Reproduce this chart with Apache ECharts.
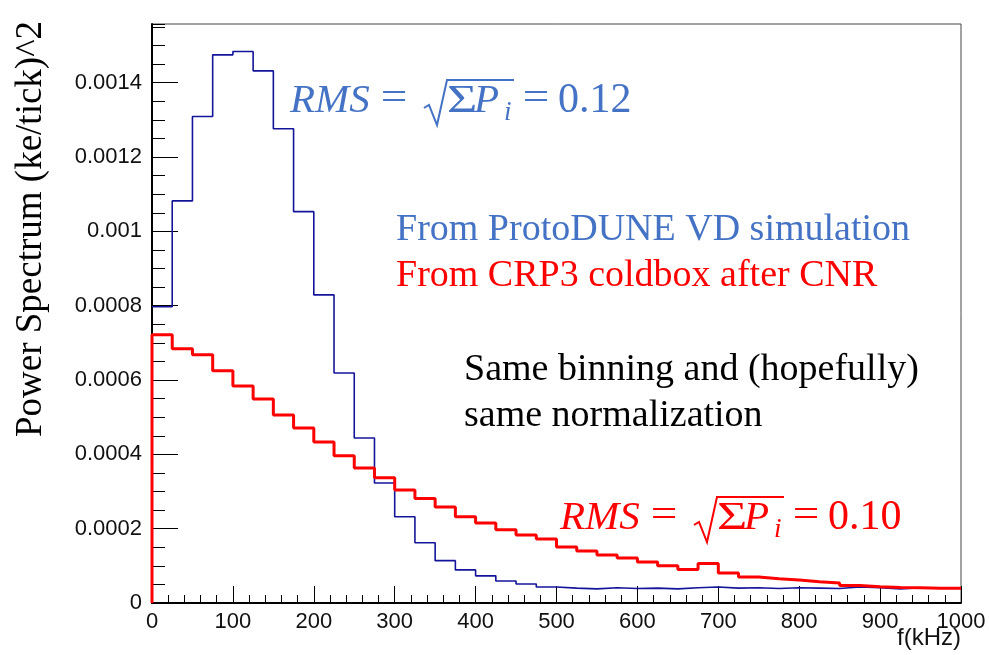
<!DOCTYPE html>
<html><head><meta charset="utf-8">
<script src="https://cdn.jsdelivr.net/npm/echarts@6/dist/echarts.min.js"></script>
<style>html,body{margin:0;padding:0;background:#fff}#c{width:989px;height:655px}</style>
</head><body><div id="c"></div>
<script>
// Bin lower edges (kHz), 25 kHz bins
const binEdges = [0,25,50,75,100,125,150,175,200,225,250,275,300,325,350,375,400,425,450,475,
                  500,525,550,575,600,625,650,675,700,725,750,775,800,825,850,875,900,925,950,975];
const binUpper = 1000;
// ProtoDUNE VD simulation
const simValues = [0.000797,0.001082,0.001309,0.001475,0.001484,0.001432,0.001276,0.001053,0.000829,0.000619,
                   0.000444,0.000323,0.000232,0.000162,0.000114,0.000089,0.000073,0.000059,0.000051,0.000043,
                   0.000040,0.000038,0.000041,0.000039,0.000040,0.000038,0.000041,0.000043,0.000040,0.000041,
                   0.000039,0.000041,0.000040,0.000039,0.000043,0.000041,0.000038,0.000041,0.000040,0.000040];
// CRP3 coldbox after CNR
const crpValues = [0.000722,0.000684,0.000668,0.000625,0.000584,0.000549,0.000506,0.000471,0.000433,0.000396,
                   0.000363,0.000337,0.000304,0.000281,0.000258,0.000232,0.000215,0.000197,0.000183,0.000172,
                   0.000151,0.000140,0.000129,0.000121,0.000110,0.000100,0.000090,0.000106,0.000081,0.000070,
                   0.000065,0.000062,0.000057,0.000054,0.000047,0.000044,0.000042,0.000041,0.000040,0.000040];
const xTickLabels = ['0','100','200','300','400','500','600','700','800','900','1000'];
const yTickLabels = ['0','0.0002','0.0004','0.0006','0.0008','0.001','0.0012','0.0014'];
const yMax = 0.001558;
const yLabelMax = 0.0014;

function histData(vals, startFromZero){
  const d = [];
  if (startFromZero) d.push([binEdges[0], 0]);
  binEdges.forEach((e,i)=>d.push([e, vals[i]]));
  d.push([binUpper, vals[vals.length-1]]);
  return d;
}

const G = {left:152, right:28, top:24, bottom:52};
const plotH = 655 - G.top - G.bottom;
const labelGridH = plotH * yLabelMax / yMax;

const chart = echarts.init(document.getElementById('c'), null, {renderer:'canvas'});
const serif = 'Liberation Serif';
const sans = 'Liberation Sans';
const blueTxt = '#4472c4';

function formula(x0, y0, color, valueText){
  // y0 = baseline
  const fs = 39;
  const mid = y0 - 0.30*fs;
  return [
    {type:'text', x:x0, y:mid, style:{text:'RMS', fontFamily:serif, fontStyle:'italic', fontSize:41, fill:color, align:'left', verticalAlign:'middle'}},
    {type:'text', x:x0+104, y:mid-2, scaleX:1.15, style:{text:'=', fontFamily:serif, fontSize:fs+2, fill:color, align:'center', verticalAlign:'middle'}},
    {type:'polyline', shape:{points:[[x0+134,y0-5],[x0+139,y0-8],[x0+147,y0+12],[x0+157,y0-33],[x0+224,y0-33]]}, style:{stroke:color, lineWidth:2, fill:null}},
    {type:'text', x:x0+157, y:mid, scaleX:1.3, style:{text:'Σ', fontFamily:serif, fontSize:fs+1, fill:color, align:'left', verticalAlign:'middle'}},
    {type:'text', x:x0+184, y:mid, style:{text:'P', fontFamily:serif, fontStyle:'italic', fontSize:fs+2, fill:color, align:'left', verticalAlign:'middle'}},
    {type:'text', x:x0+214, y:mid+12, style:{text:'i', fontFamily:serif, fontStyle:'italic', fontSize:27, fill:color, align:'left', verticalAlign:'middle'}},
    {type:'text', x:x0+246, y:mid-2, scaleX:1.15, style:{text:'=', fontFamily:serif, fontSize:fs+2, fill:color, align:'center', verticalAlign:'middle'}},
    {type:'text', x:x0+268, y:mid, style:{text:valueText, fontFamily:serif, fontSize:42, fill:color, align:'left', verticalAlign:'middle'}}
  ];
}

const option = {
  animation:false,
  backgroundColor:'#fff',
  grid:[
    {left:G.left, right:G.right, top:G.top, bottom:G.bottom, show:true, borderColor:'#444', borderWidth:1, backgroundColor:'transparent'},
    {left:G.left, right:G.right, bottom:G.bottom, height:labelGridH}
  ],
  xAxis:[
    {gridIndex:0, type:'value', min:0, max:1000, interval:100,
     axisLine:{show:true, lineStyle:{color:'#000', width:2}},
     axisTick:{show:true, inside:true, length:17, lineStyle:{color:'#000', width:1}},
     minorTick:{show:true, splitNumber:5, length:8, lineStyle:{color:'#000', width:1}},
     axisLabel:{show:true, fontFamily:sans, fontSize:22, color:'#111', margin:8,
       formatter:(v)=>{const i=Math.round(v/100); return (Math.abs(v-i*100)<1e-6 && xTickLabels[i]!==undefined)?xTickLabels[i]:'';}},
     splitLine:{show:false}},
    {gridIndex:1, type:'value', min:0, max:1000, show:false}
  ],
  yAxis:[
    {gridIndex:0, type:'value', min:0, max:yMax, interval:0.00005,
     axisLine:{show:true, lineStyle:{color:'#000', width:2}},
     axisTick:{show:true, inside:true, length:13, lineStyle:{color:'#000', width:1}},
     axisLabel:{show:false}, splitLine:{show:false}},
    {gridIndex:1, type:'value', min:0, max:yLabelMax, interval:0.0002,
     axisLine:{show:false},
     axisTick:{show:true, inside:true, length:26, lineStyle:{color:'#000', width:1}},
     axisLabel:{show:true, fontFamily:sans, fontSize:22, color:'#111', margin:10,
       formatter:(v)=>{const i=Math.round(v/0.0002); return yTickLabels[i]!==undefined?yTickLabels[i]:'';}},
     splitLine:{show:false}}
  ],
  series:[
    {name:'From ProtoDUNE VD simulation', type:'line', xAxisIndex:0, yAxisIndex:0, step:'end',
     data:histData(simValues,false), showSymbol:false, symbol:'none',
     lineStyle:{color:'#14149a', width:1.6}, z:3},
    {name:'From CRP3 coldbox after CNR', type:'line', xAxisIndex:0, yAxisIndex:0, step:'end',
     data:histData(crpValues,true), showSymbol:false, symbol:'none',
     lineStyle:{color:'#ff0000', width:3}, z:4}
  ],
  graphic:[
    {type:'text', x:31, y:229, rotation:Math.PI/2,
     style:{text:'Power Spectrum (ke/tick)^2', fontFamily:serif, fontSize:37, fill:'#000', align:'center', verticalAlign:'middle'}},
    {type:'text', x:961, y:638, style:{text:'f(kHz)', fontFamily:sans, fontSize:24, fill:'#111', align:'right', verticalAlign:'middle'}},
    {type:'text', x:396, y:230, style:{text:'From ProtoDUNE VD simulation', fontFamily:serif, fontSize:38, fill:blueTxt, align:'left', verticalAlign:'middle'}},
    {type:'text', x:396, y:276, style:{text:'From CRP3 coldbox after CNR', fontFamily:serif, fontSize:38, fill:'#ff0000', align:'left', verticalAlign:'middle'}},
    {type:'text', x:464, y:370, style:{text:'Same binning and (hopefully)', fontFamily:serif, fontSize:38, fill:'#000', align:'left', verticalAlign:'middle'}},
    {type:'text', x:464, y:416, style:{text:'same normalization', fontFamily:serif, fontSize:38, fill:'#000', align:'left', verticalAlign:'middle'}}
  ].concat(formula(290, 113, blueTxt, '0.12')).concat(formula(560, 530, '#ff0000', '0.10'))
};
chart.setOption(option);
</script>
</body></html>
